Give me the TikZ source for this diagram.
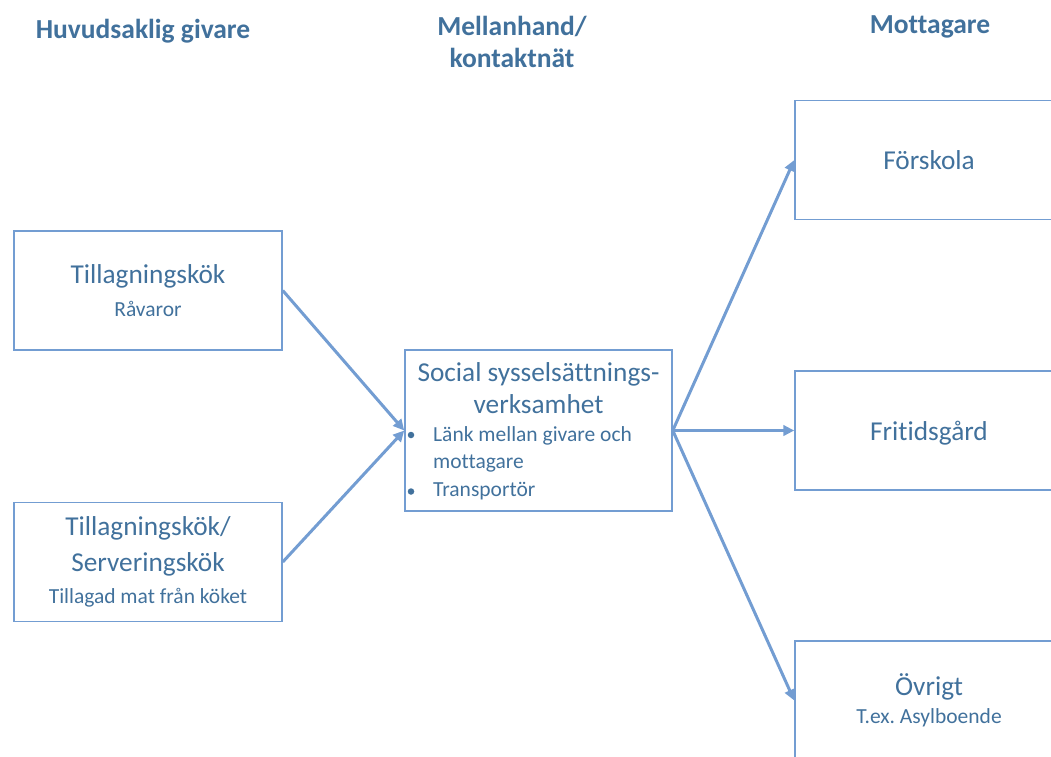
\documentclass[tikz,border=0pt]{standalone}
\usepackage{fontspec}
\setmainfont{Carlito}[Ligatures=NoCommon]
\usetikzlibrary{arrows.meta}
\definecolor{txtblue}{HTML}{41719C}
\definecolor{lineblue}{HTML}{739DD2}
\begin{document}
\frenchspacing
\begin{tikzpicture}[x=1pt,y=-1pt,
  box/.style={draw=lineblue,line width=1.5pt,minimum width=268pt,minimum height=119pt,inner sep=0pt},
  head/.style={font=\fontsize{27.5}{32}\selectfont\bfseries,text=txtblue,anchor=base},
  big/.style={font=\fontsize{27.3}{32}\selectfont,text=txtblue,anchor=base,inner sep=0pt},
  small/.style={font=\fontsize{21.5}{25}\selectfont,text=txtblue,anchor=base,inner sep=0pt},
  dot/.style={circle,fill=txtblue,inner sep=0pt,minimum size=6.5pt},
  conn/.style={draw=lineblue,line width=3pt,-{Triangle[length=11pt,width=10.5pt]}}]
\useasboundingbox (0,0) rectangle (1051,756);
% headings
\node[head] (h1) at (143,38) {Huvudsaklig givare};
\node[head] (h2a) at (512,35) {Mellanhand/};
\node[head] (h2b) at (512,67) {kontaktnät};
\node[head] (h3) at (930,33) {Mottagare};
% left boxes
\node[box] (A) at (148,290.5) {};
\node[big] (At) at (148,283) {Tillagningskök};
\node[small] (As) at (148,316.5) {Råvaror};
\node[box] (B) at (148,562) {};
\node[big] (Bt1) at (148,535) {Tillagningskök/};
\node[big] (Bt2) at (148,571.5) {Serveringskök};
\node[small] (Bs) at (148,603) {Tillagad mat från köket};
% center box
\node[box,minimum width=267pt,minimum height=161pt] (C) at (538.5,430.5) {};
\node[big] (Ct1) at (538.5,381.5) {Social sysselsättnings-};
\node[big] (Ct2) at (538.5,413) {verksamhet};
\node[dot] (d1) at (411,435) {};
\node[small,anchor=base west] (Cb1) at (433,441.5) {Länk mellan givare och};
\node[small,anchor=base west] (Cb2) at (433,468) {mottagare};
\node[dot] (d2) at (411,491.5) {};
\node[small,anchor=base west] (Cb3) at (433,496.5) {Transportör};
% right boxes (clipped)
\begin{scope}
\clip (0,0) rectangle (1051,756);
\node[box] (F) at (929,160) {};
\node[box] (G) at (929,430.5) {};
\node[box] (O) at (929,700.5) {};
\end{scope}
\node[big] (Ft) at (929,169) {Förskola};
\node[big] (Gt) at (929,440) {Fritidsgård};
\node[big] (Ot) at (929,695) {Övrigt};
\node[small] (Os) at (929,723) {T.ex. Asylboende};
% connectors
\draw[conn] (A.east) -- (C.west);
\draw[conn] (B.east) -- (C.west);
\draw[conn] (C.east) -- (F.west);
\draw[conn] (C.east) -- (G.west);
\draw[conn] (C.east) -- (O.west);
\end{tikzpicture}
\end{document}
